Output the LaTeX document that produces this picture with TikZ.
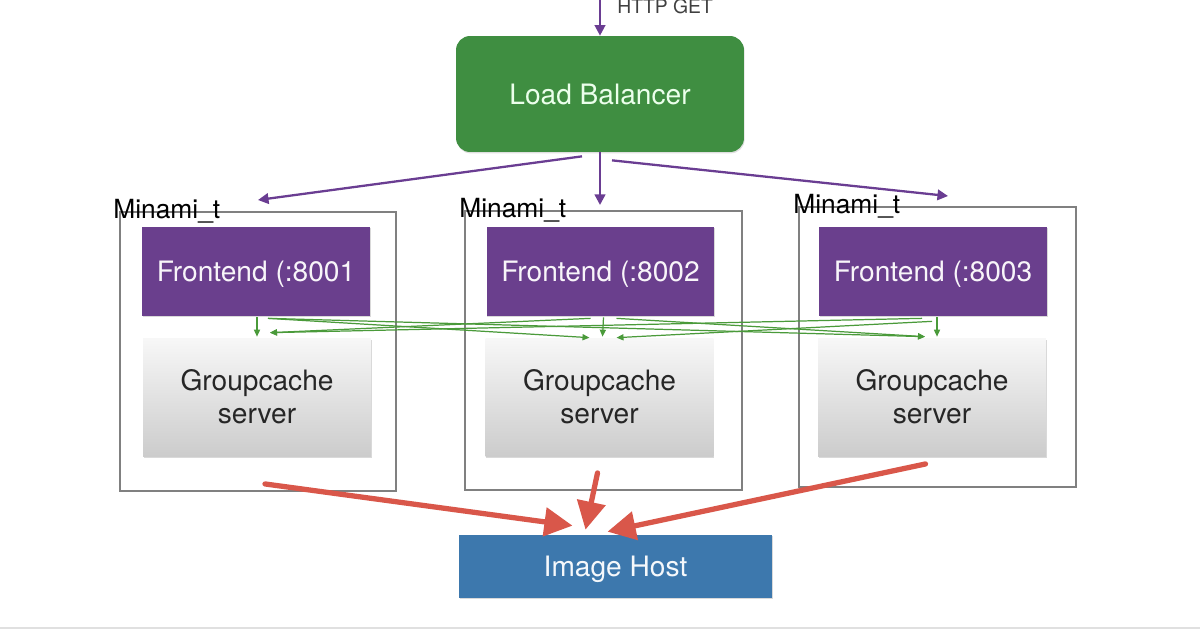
\documentclass[tikz,border=0pt]{standalone}
\usepackage{fontspec}
\setmainfont{TeX Gyre Heros}
\usetikzlibrary{arrows.meta,calc,shadows}
\definecolor{lbgreen}{HTML}{3F8E41}
\definecolor{fepurple}{HTML}{6A3F8D}
\definecolor{hostblue}{HTML}{3D78AD}
\definecolor{redline}{HTML}{D9574A}
\definecolor{arrpurple}{HTML}{6A3D92}
\definecolor{arrgreen}{HTML}{4A9A3A}
\definecolor{boxgray}{HTML}{808080}
\begin{document}
\begin{tikzpicture}[x=0.02cm, y=-0.02cm,
	lbbox/.style={fill=lbgreen, rounded corners=0.28cm, minimum width=5.76cm, minimum height=2.32cm, text=white!92!green, font=\fontsize{16}{19}\selectfont, drop shadow={shadow xshift=0.4pt, shadow yshift=-0.8pt, opacity=0.25}},
	frontbox/.style={fill=fepurple, minimum width=4.56cm, minimum height=1.78cm, text=white!95!fepurple, font=\fontsize{16}{19}\selectfont, text depth=0pt, drop shadow={shadow xshift=0.5pt, shadow yshift=-0.8pt, opacity=0.3}},
	cachebox/.style={top color=white!97!black, bottom color=black!20, minimum width=4.56cm, minimum height=2.36cm, align=center, text=black!85, font=\fontsize{16}{19}\selectfont, drop shadow={shadow xshift=0.5pt, shadow yshift=-1pt, opacity=0.3}},
	hostbox/.style={fill=hostblue, minimum width=6.26cm, minimum height=1.26cm, text=white!95!hostblue, font=\fontsize{16}{19}\selectfont, text depth=0pt, drop shadow={shadow xshift=0.5pt, shadow yshift=-0.8pt, opacity=0.3}},
	minbox/.style={draw=boxgray, line width=1.1pt, minimum height=5.58cm},
	minlabel/.style={anchor=west, inner sep=0pt, font=\fontsize{15}{18}\selectfont},
	purplearrow/.style={draw=arrpurple, line width=1.3pt, -{Triangle[length=6pt,width=6pt]}},
	greenarrow/.style={draw=arrgreen, line width=0.7pt, -{Triangle[length=4pt,width=3.5pt]}},
	redarrow/.style={draw=redline, line width=3pt, line cap=round, -{Triangle[length=16pt,width=16pt]}}]

	\useasboundingbox (0,0) rectangle (1200,630);
	\draw[black!12, line width=1.2pt] (0,628) -- (1200,628);

	\node[minbox, minimum width=5.52cm] (min1) at (258,351.5) {};
	\node[minbox, minimum width=5.54cm] (min2) at (603.5,350.5) {};
	\node[minbox, minimum width=5.54cm, minimum height=5.6cm] (min3) at (937.5,347) {};
	\node[minlabel] (lab1) at (113,211) {Minami\_t};
	\node[minlabel] (lab2) at (459,210) {Minami\_t};
	\node[minlabel] (lab3) at (793,206) {Minami\_t};

	\node[lbbox] (lb) at (600,94) {Load Balancer};
	\coordinate (web) at (600,-5);
	\draw[purplearrow] (web) -- (lb.north);
	\node[anchor=west, inner sep=0pt, text=black!75, font=\fontsize{11}{13}\selectfont] (get) at (617,6) {HTTP GET};

	\node[frontbox] (fe1) at (256,271.5) {Frontend (:8001};
	\node[frontbox] (fe2) at (600.5,271.5) {Frontend (:8002};
	\node[frontbox] (fe3) at (933,271.5) {Frontend (:8003};

	\node[cachebox] (gc1) at (257,397) {Groupcache\\server};
	\node[cachebox] (gc2) at (599.5,397) {Groupcache\\server};
	\node[cachebox] (gc3) at (932,397) {Groupcache\\server};

	\node[hostbox] (host) at (615.5,566.5) {Image Host};

	\coordinate (to1) at (258,200);
	\coordinate (to2) at (600,205);
	\coordinate (to3) at (948,196);
	\draw[purplearrow] ($(lb.south)+(-18,4)$) -- (to1);
	\draw[purplearrow] (lb.south) -- (to2);
	\draw[purplearrow] ($(lb.south)+(12,8)$) -- (to3);

	\draw[greenarrow] ($(fe1.south)+(1,1)$) -- ($(gc1.north)+(0,-1)$);
	\draw[greenarrow] ($(fe1.south)+(12,2)$) -- ($(gc2.north)+(-10,0)$);
	\draw[greenarrow] ($(fe1.south)+(12,2)$) -- ($(gc3.north)+(-7,-1)$);
	\draw[greenarrow] ($(fe2.south)+(-10,2)$) -- ($(gc1.north)+(13,-5)$);
	\draw[greenarrow] ($(fe2.south)+(3,1)$) -- ($(gc2.north)+(3,-1)$);
	\draw[greenarrow] ($(fe2.south)+(16,2)$) -- ($(gc3.north)+(-7,-1)$);
	\draw[greenarrow] ($(fe3.south)+(-11,2)$) -- ($(gc1.north)+(13,-5)$);
	\draw[greenarrow] ($(fe3.south)+(-1,5)$) -- ($(gc2.north)+(17,0)$);
	\draw[greenarrow] ($(fe3.south)+(4,1)$) -- ($(gc3.north)+(5,-1)$);

	\draw[redarrow] ($(min1.south)+(7,-8)$) -- ($(host.north)+(-43,-9)$);
	\draw[redarrow] ($(min2.south)+(-6,-18)$) -- ($(host.north)+(-30,-5)$);
	\draw[redarrow] ($(min3.south)+(-12,-24)$) -- ($(host.north)+(-8,-3)$);

\end{tikzpicture}
\end{document}
